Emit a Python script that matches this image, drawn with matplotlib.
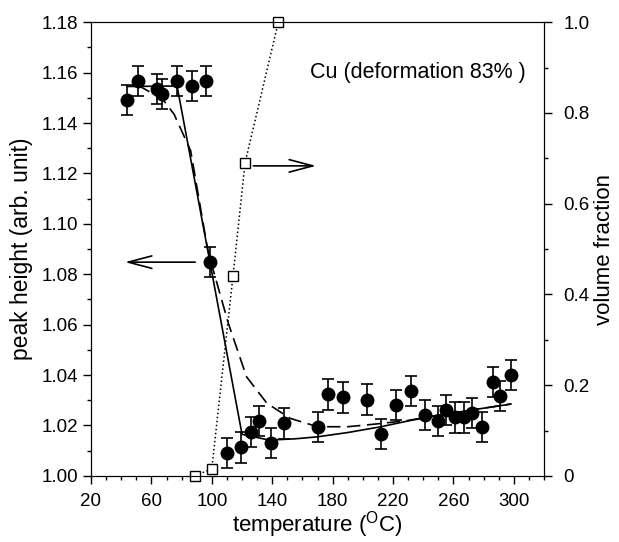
import matplotlib
matplotlib.use('Agg')
import matplotlib.pyplot as plt
from matplotlib.ticker import MultipleLocator, FixedLocator, FormatStrFormatter

plt.rcParams['font.family'] = ['Liberation Sans', 'DejaVu Sans']

# measured peak height with error bars
temp = [44, 51, 64, 67, 77, 87, 96, 99, 110, 119, 126, 131, 139, 148, 170,
        177, 187, 203, 212, 222, 232, 241, 250, 255, 261, 267, 272, 279, 286, 291, 298]
height = [1.149, 1.1567, 1.1534, 1.1514, 1.1567, 1.1546, 1.1567, 1.0848, 1.0092,
          1.0113, 1.0173, 1.0218, 1.0129, 1.0208, 1.0195, 1.0323, 1.0311, 1.0303,
          1.0165, 1.0281, 1.0336, 1.0241, 1.0218, 1.0261, 1.0232, 1.0232, 1.0248,
          1.0195, 1.0373, 1.0318, 1.040]
height_err = [0.006] * len(temp)

# solid fit
fit1_t = [44, 77, 120, 138, 155, 170, 190, 212, 230, 250, 275, 298]
fit1_h = [1.1545, 1.1547, 1.0165, 1.0142, 1.0147, 1.0155, 1.0172, 1.0195, 1.0218,
          1.0241, 1.0264, 1.0285]

# dashed fit
fit2_t = [51, 60, 68, 75, 86, 97, 101, 111, 123, 136.5, 152, 170, 190, 209, 230,
          250, 275, 298]
fit2_h = [1.155, 1.152, 1.149, 1.1435, 1.129, 1.0907, 1.0815, 1.0604, 1.0393,
          1.0288, 1.0228, 1.0195, 1.0195, 1.0206, 1.022, 1.0241, 1.0264, 1.0285]

# volume fraction (right axis)
vf_t = [89, 100, 114, 122, 144]
vf = [0.0, 0.016, 0.44, 0.69, 1.0]

xticks = [20, 60, 100, 140, 180, 220, 260, 300]

fig = plt.figure(figsize=(6.19, 5.42), dpi=100)
ax = fig.add_axes([0.147, 0.122, 0.732, 0.837])

ax.plot(fit1_t, fit1_h, color='k', linestyle='-', linewidth=1.2)
ax.plot(fit2_t, fit2_h, color='k', linestyle=(0, (8, 4)), linewidth=1.2)
ax.errorbar(temp, height, yerr=height_err, fmt='o', color='k', markersize=9,
            elinewidth=1.2, capsize=4, capthick=1.2, zorder=5)

ax.set_xlim(20, 320)
ax.set_ylim(1.00, 1.18)
ax.xaxis.set_major_locator(FixedLocator(xticks))
ax.xaxis.set_minor_locator(MultipleLocator(10))
ax.yaxis.set_major_locator(MultipleLocator(0.02))
ax.yaxis.set_minor_locator(MultipleLocator(0.01))
ax.yaxis.set_major_formatter(FormatStrFormatter('%.2f'))
ax.tick_params(which='both', direction='out', labelsize=13.5, top=False)
ax.tick_params(which='major', length=6, width=1)
ax.tick_params(which='minor', length=3, width=1)
ax.tick_params(axis='x', which='major', pad=6)
ax.set_xlabel('temperature ($\\mathregular{^{O}}$C)', fontsize=16, labelpad=0)
ax.set_ylabel('peak height (arb. unit)', fontsize=16.5, labelpad=6)

# arrows and label
ax.annotate('', xy=(42.5, 1.0848), xytext=(89, 1.0848),
            arrowprops=dict(arrowstyle='->,head_length=1.7,head_width=0.45',
                            lw=1.2, color='k', mutation_scale=10, shrinkA=0, shrinkB=0))
ax.annotate('', xy=(169, 1.123), xytext=(127.5, 1.123),
            arrowprops=dict(arrowstyle='->,head_length=1.7,head_width=0.45',
                            lw=1.2, color='k', mutation_scale=10, shrinkA=0, shrinkB=0))
ax.text(165, 1.160, 'Cu (deformation 83% )', va='center', fontsize=15.5)

ax2 = ax.twinx()
ax2.plot(vf_t, vf, color='k', linestyle=':', linewidth=1.1, marker='s',
         markersize=6.5, markerfacecolor='white', markeredgecolor='k',
         markeredgewidth=1.0, clip_on=False)
ax2.set_ylim(0, 1.0)
ax2.yaxis.set_minor_locator(MultipleLocator(0.1))
ax2.set_yticks([0, 0.2, 0.4, 0.6, 0.8, 1.0])
ax2.set_yticklabels(['0', '0.2', '0.4', '0.6', '0.8', '1.0'])
ax2.tick_params(which='both', direction='out', labelsize=13.5)
ax2.tick_params(which='major', length=6, width=1, pad=8)
ax2.tick_params(which='minor', length=3, width=1)
ax2.set_ylabel('volume fraction', fontsize=16, labelpad=3)

plt.savefig('out.png', dpi=100)
